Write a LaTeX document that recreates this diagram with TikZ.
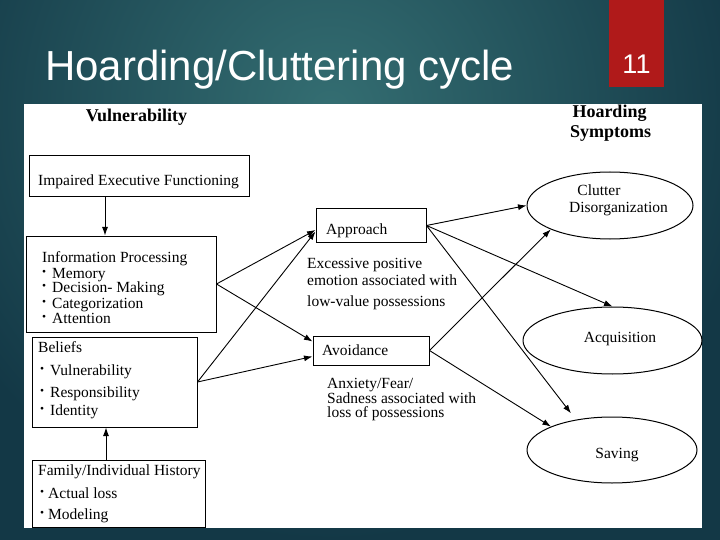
\documentclass[tikz,border=0pt]{standalone}
\usepackage{fontspec}
\setmainfont{Liberation Serif}
\newfontfamily\titlefont{Liberation Sans}
\usetikzlibrary{arrows.meta,shapes.geometric,calc}
\definecolor{bgin}{RGB}{52,110,114}
\definecolor{bgout}{RGB}{19,56,70}
\definecolor{redbox}{RGB}{176,26,26}
\newcommand{\bul}[1][10pt]{\makebox[#1][l]{\raisebox{2.5pt}{\fontsize{11.5}{11}\selectfont\textbullet}}}
\begin{document}
\begin{tikzpicture}[x=1pt,y=-1pt,
  box/.style={draw=black,line width=1pt,inner sep=0pt,rectangle},
  oval/.style={draw=black,line width=1pt,inner sep=0pt,ellipse},
  txt/.style={anchor=base west,inner sep=0pt,font=\fontsize{15.5}{18}\selectfont,text=black},
  ctxt/.style={anchor=base,inner sep=0pt,font=\fontsize{15.5}{18}\selectfont,text=black},
  head/.style={anchor=base,inner sep=0pt,font=\fontsize{18}{20}\selectfont\bfseries,text=black},
  arr/.style={line width=0.9pt,-{Latex[length=8.5pt,width=6pt]}}]
\useasboundingbox (0,0) rectangle (720,540);
% background
\fill[bgout] (0,0) rectangle (720,540);
\begin{scope}
\clip (0,0) rectangle (720,540);
\shade[inner color=bgin, outer color=bgout] (330,110) circle (430);
\end{scope}
% title and page number
\node[anchor=base west,inner sep=0pt,font=\titlefont\fontsize{42}{44}\selectfont,text=white] (title) at (45,81) {Hoarding/Cluttering cycle};
\fill[redbox] (609,0) rectangle (664,87);
\node[anchor=base,inner sep=0pt,font=\titlefont\fontsize{27}{27}\selectfont,text=white] (pgnum) at (636.5,74) {11};
% white panel
\fill[white] (24,104) rectangle (702,528);
% headings
\node[head] (hvul) at (136.5,122) {Vulnerability};
\node[head] (hhoard) at (609.5,118) {Hoarding};
\node[head] (hsym) at (610.5,138) {Symptoms};
% boxes
\node[box,minimum width=220pt,minimum height=41pt] (impaired) at (139,176.5) {};
\node[box,minimum width=190pt,minimum height=96pt] (info) at (121,284) {};
\node[box,minimum width=165pt,minimum height=90pt] (beliefs) at (114.5,382) {};
\node[box,minimum width=173pt,minimum height=67pt] (family) at (118.5,493.5) {};
\node[box,minimum width=110pt,minimum height=33pt] (approach) at (371,225.5) {};
\node[box,minimum width=116pt,minimum height=29pt] (avoid) at (371,350.5) {};
\node[oval,minimum width=166pt,minimum height=67pt] (clutter) at (610,205.5) {};
\node[oval,minimum width=179pt,minimum height=67pt] (acq) at (612.5,340.5) {};
\node[oval,minimum width=170pt,minimum height=66pt] (saving) at (612,450) {};
% box texts
\node[txt] (t1) at (38,186) {Impaired Executive Functioning};
\node[txt] (t2) at (42,262) {Information Processing};
\node[txt] (t3) at (42,278) {\bul Memory};
\node[txt] (t4) at (42,292) {\bul Decision- Making};
\node[txt] (t5) at (42,308) {\bul Categorization};
\node[txt] (t6) at (42,323) {\bul Attention};
\node[txt] (t7) at (38,352) {Beliefs};
\node[txt] (t8) at (40,375) {\bul Vulnerability};
\node[txt] (t9) at (40,397) {\bul Responsibility};
\node[txt] (t10) at (40,415) {\bul Identity};
\node[txt] (t11) at (38,475) {Family/Individual History};
\node[txt] (t12) at (40,498) {\bul[8pt]Actual loss};
\node[txt] (t13) at (40,519) {\bul[8pt]Modeling};
\node[txt] (t14) at (326,234) {Approach};
\node[txt] (t15) at (322,355) {Avoidance};
\node[txt] (t16) at (307,268) {Excessive positive};
\node[txt] (t17) at (307,285) {emotion associated with};
\node[txt] (t18) at (307,306) {low-value possessions};
\node[txt] (t19) at (327,388) {Anxiety/Fear/};
\node[txt] (t20) at (327,403) {Sadness associated with};
\node[txt] (t21) at (327,417) {loss of possessions};
\node[ctxt] (t22) at (599,196) {Clutter};
\node[ctxt] (t23) at (618.5,212) {Disorganization};
\node[ctxt] (t24) at (620,342) {Acquisition};
\node[ctxt] (t25) at (617,458) {Saving};
% connectors
\draw[arr] ([xshift=-34pt]impaired.south) -- ([xshift=-34pt]impaired.south |- info.north);
\draw[arr] ([xshift=-12.5pt]family.north) -- ([xshift=-12.5pt]family.north |- beliefs.south);
\draw[arr] (info.east) -- ([yshift=-4.5pt]approach.west);
\draw[arr] (info.east) -- ([yshift=9pt]avoid.west);
\draw[arr] (beliefs.east) -- ([yshift=-6pt]approach.west);
\draw[arr] (beliefs.east) -- ([yshift=-6pt]avoid.west);
\draw[arr] (approach.east) -- (clutter.west);
\draw[arr] (approach.east) -- (acq.north);
\draw[arr,shorten >=8pt] (approach.east) -- (saving.140);
\draw[arr] (avoid.east) -- (clutter.202);
\draw[arr] (avoid.east) -- (saving.159);
\end{tikzpicture}
\end{document}
